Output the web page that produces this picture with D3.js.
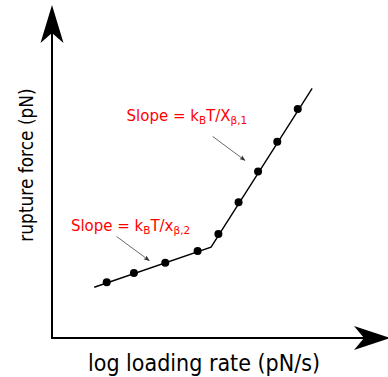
<!DOCTYPE html>
<html>
<head>
<meta charset="utf-8">
<script src="https://cdn.jsdelivr.net/npm/d3@7"></script>
<style>
  html, body { margin: 0; padding: 0; background: #fff; }
  svg { display: block; }
  text { font-family: "DejaVu Sans", sans-serif; }
</style>
</head>
<body>
<svg id="chart" width="388" height="377"></svg>
<script>
// ---- data (arbitrary units: log loading rate vs rupture force) ----
const pointX = [1.71, 2.56, 3.54, 4.55, 5.20, 5.83, 6.44, 7.04, 7.68];
const pointY = [1.74, 2.03, 2.35, 2.72, 3.25, 4.24, 5.20, 6.13, 7.16];
const fitX = [1.32, 4.97, 8.13];
const fitY = [1.585, 2.84, 7.80];
const xLabel = "log loading rate (pN/s)";
const yLabel = "rupture force (pN)";
const annoLabels = [
  {main: "Slope = k", sub1: "B", mid: "T/X", sub2: "β,1"},
  {main: "Slope = k", sub1: "B", mid: "T/x", sub2: "β,2"}
];
const annoTextX = [2.33, 0.59];
const annoTextY = [6.78, 3.34];
const annoArrowFromX = [5.02, 2.02];
const annoArrowFromY = [6.30, 3.17];
const annoArrowToX = [6.03, 3.04];
const annoArrowToY = [5.55, 2.42];

// ---- layout ----
const svg = d3.select("#chart");
const x = d3.scaleLinear().domain([0, 10]).range([52, 372]);
const y = d3.scaleLinear().domain([0, 10]).range([338, 18]);

const defs = svg.append("defs");
defs.append("marker")
  .attr("id", "ah").attr("viewBox", "0 0 10 10")
  .attr("refX", 9).attr("refY", 5)
  .attr("markerWidth", 6).attr("markerHeight", 6)
  .attr("markerUnits", "userSpaceOnUse")
  .attr("orient", "auto")
  .append("path").attr("d", "M0,1 L10,5 L0,9 L2,5 Z").attr("fill", "#333");

// axes
const x0 = x(0), y0 = y(0);
const yTip = 5, xTip = 390;
svg.append("line").attr("x1", x0).attr("y1", y0 + 1).attr("x2", x0).attr("y2", yTip + 20)
  .attr("stroke", "#000").attr("stroke-width", 2);
svg.append("line").attr("x1", x0 - 1).attr("y1", y0).attr("x2", xTip - 20).attr("y2", y0)
  .attr("stroke", "#000").attr("stroke-width", 2);
svg.append("path")
  .attr("d", `M${x0},${yTip} L${x0 + 11.5},${yTip + 38} L${x0},${yTip + 28} L${x0 - 11.5},${yTip + 38} Z`)
  .attr("fill", "#000");
svg.append("path")
  .attr("d", `M${xTip},${y0} L${xTip - 36},${y0 - 12} L${xTip - 26},${y0} L${xTip - 36},${y0 + 12} Z`)
  .attr("fill", "#000");

// axis labels
svg.append("text")
  .attr("transform", `translate(204,371) scale(1,1.1)`)
  .attr("text-anchor", "middle")
  .attr("font-size", 20.7)
  .attr("fill", "#000")
  .text(xLabel);
svg.append("text")
  .attr("transform", `translate(33,165) rotate(-90) scale(1,1.15)`)
  .attr("text-anchor", "middle")
  .attr("font-size", 17)
  .attr("fill", "#000")
  .text(yLabel);

// fit line
const line = d3.line().x(d => x(d[0])).y(d => y(d[1]));
svg.append("path")
  .datum(d3.zip(fitX, fitY))
  .attr("d", line)
  .attr("fill", "none")
  .attr("stroke", "#000")
  .attr("stroke-width", 1.4);

// points
svg.selectAll("circle.pt")
  .data(d3.zip(pointX, pointY))
  .join("circle")
  .attr("class", "pt")
  .attr("cx", d => x(d[0]))
  .attr("cy", d => y(d[1]))
  .attr("r", 4)
  .attr("fill", "#000");

// annotations
annoLabels.forEach((lab, i) => {
  svg.append("line")
    .attr("x1", x(annoArrowFromX[i])).attr("y1", y(annoArrowFromY[i]))
    .attr("x2", x(annoArrowToX[i])).attr("y2", y(annoArrowToY[i]))
    .attr("stroke", "#444").attr("stroke-width", 0.8)
    .attr("marker-end", "url(#ah)");
  const t = svg.append("text")
    .attr("transform", `translate(${x(annoTextX[i])},${y(annoTextY[i])}) scale(1,1.06)`)
    .attr("font-size", 15)
    .attr("fill", "#ff0000");
  t.append("tspan").text(lab.main);
  t.append("tspan").attr("font-size", 10.5).attr("dy", 3).text(lab.sub1);
  t.append("tspan").attr("dy", -3).text(lab.mid);
  t.append("tspan").attr("font-size", 10.5).attr("dy", 3).text(lab.sub2);
});
</script>
</body>
</html>
